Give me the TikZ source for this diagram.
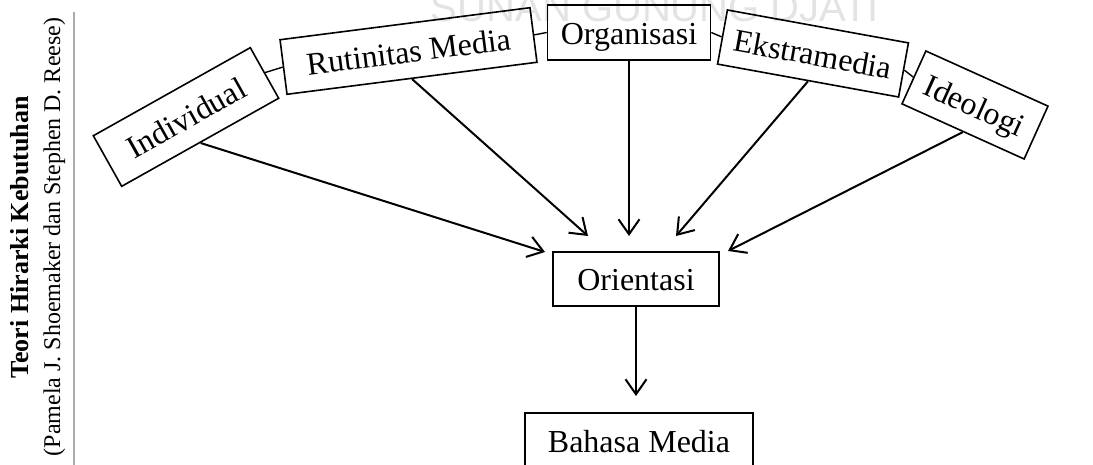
\documentclass[tikz,border=0pt]{standalone}
\usepackage{fontspec}
\setmainfont{Liberation Serif}
\newfontfamily\wmfont{Liberation Sans}
\usetikzlibrary{arrows.meta}
\begin{document}
\begin{tikzpicture}[x=1pt,y=-1pt,
  box/.style={draw,line width=1.6pt,inner sep=0pt,minimum height=55pt,
    font=\fontsize{32}{38}\selectfont,text height=26pt,text depth=2.6pt},
  link/.style={line width=1.4pt},
  arr/.style={line width=2pt,-{Straight Barb[length=15pt,width=21pt,line width=2pt]}}]
\useasboundingbox (0,0) rectangle (1093,465);
\clip (0,0) rectangle (1093,465);
% watermark
\node[anchor=base,inner sep=0pt,text=gray!22,font=\wmfont\fontsize{40}{48}\selectfont] (wm) at (655,22) {SUNAN GUNUNG DJATI};
% side title
\node[anchor=base,rotate=90,inner sep=0pt,font=\fontsize{26}{30}\selectfont\bfseries] (title) at (28.5,237.5) {Teori Hirarki Kebutuhan};
\node[anchor=base,rotate=90,inner sep=0pt,font=\fontsize{24}{28}\selectfont] (authors) at (60,237) {(Pamela J. Shoemaker dan Stephen D. Reese)};
\coordinate (gtop) at (74,12);
\coordinate (gbot) at (74,465);
\draw[gray!65,line width=1.5pt] (gtop) -- (gbot);
% boxes
\node[box,minimum width=180pt,minimum height=58pt,rotate=29.3] (ind) at (186,117) {Individual};
\node[box,minimum width=252pt,rotate=7.3] (rut) at (408.5,51) {Rutinitas Media};
\node[box,minimum width=163pt] (org) at (629,32.5) {Organisasi};
\node[box,minimum width=184pt,rotate=-10.3] (eks) at (813,53.5) {Ekstramedia};
\node[box,minimum width=134pt,minimum height=58pt,rotate=-24.3] (ide) at (975,105) {Ideologi};
\node[box,minimum width=166pt,minimum height=54pt] (ori) at (636,279) {Orientasi};
\node[box,minimum width=228pt] (bah) at (639,440.5) {Bahasa Media};
% chain links
\draw[link] (ind.east) -- (rut.west);
\draw[link] (rut.east) -- (org.west);
\draw[link] (org.east) -- (eks.west);
\draw[link] (eks.east) -- (ide.west);
% arrow targets
\coordinate (t1) at (545,252);
\coordinate (t2) at (588,236);
\coordinate (t3) at (629,236);
\coordinate (t4) at (676,236);
\coordinate (t5) at (728,251);
\coordinate (t6) at (ori.south |- 0,396);
\draw[arr] (ind.south) -- (t1);
\draw[arr] (rut.south) -- (t2);
\draw[arr] (org.south) -- (t3);
\draw[arr] (eks.south) -- (t4);
\draw[arr] (ide.south) -- (t5);
\draw[arr] (ori.south) -- (t6);
\end{tikzpicture}
\end{document}
